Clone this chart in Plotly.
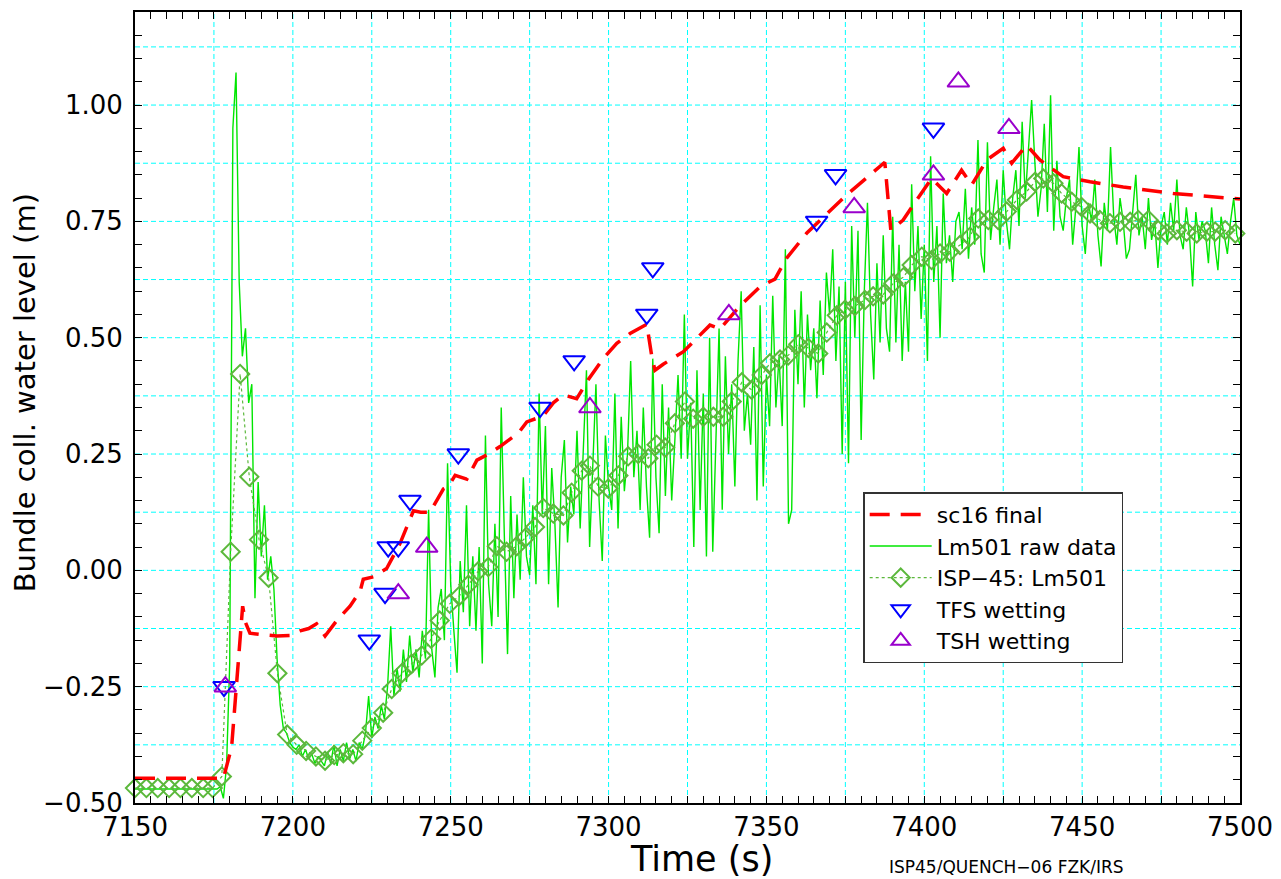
import plotly.graph_objects as go

# ---------------- data ----------------
# sc16 final (calculation)
sc16_t = [7150, 7160, 7170, 7178, 7180.6, 7182.2, 7183.3, 7184.1, 7185, 7186.4, 7190, 7194.9,
          7199, 7202.3, 7205, 7207.5, 7210.2, 7213.9, 7218.1, 7221.3, 7222.3, 7225.5, 7229.7,
          7233.9, 7238.2, 7240.5, 7243.4, 7247.7, 7249.2, 7251.4, 7255.1, 7258.3, 7262, 7265.6,
          7271.4, 7274.1, 7279.3, 7282.5, 7285.7, 7289.9, 7293.6, 7298.3, 7302.6, 7306.8, 7312.1,
          7313.7, 7314.7, 7317.3, 7323.7, 7332.1, 7335.3, 7341.6, 7348, 7352.7, 7356.4, 7362.8,
          7369.1, 7375.4, 7381.8, 7387.5, 7389.4, 7393.3, 7397.6, 7402.3, 7407.1, 7411.8, 7415,
          7419.8, 7425, 7427.7, 7432.4, 7436.6, 7444, 7452.5, 7463, 7478.9, 7500]
sc16_z = [-0.447, -0.447, -0.447, -0.447, -0.38, -0.246, -0.166, -0.077, -0.112, -0.135, -0.138, -0.141,
          -0.14, -0.13, -0.125, -0.115, -0.141, -0.108, -0.077, -0.045, -0.019, -0.014, 0.004,
          0.057, 0.128, 0.125, 0.125, 0.175, 0.18, 0.204, 0.196, 0.237, 0.25, 0.266,
          0.295, 0.319, 0.332, 0.36, 0.377, 0.369, 0.41, 0.455, 0.488, 0.509, 0.529,
          0.459, 0.43, 0.443, 0.47, 0.527, 0.519, 0.568, 0.61, 0.626, 0.671, 0.725,
          0.766, 0.807, 0.844, 0.877, 0.731, 0.753, 0.796, 0.842, 0.81, 0.86, 0.828,
          0.882, 0.907, 0.875, 0.914, 0.882, 0.846, 0.835, 0.824, 0.81, 0.798]

# Lm501 raw data (1 s sampling after 7176 s)
raw_t = [7150, 7160, 7170] + list(range(7176, 7501))
raw_z = [-0.47, -0.47, -0.47,
         -0.47, -0.465, -0.49, -0.42, -0.20, 0.95, 1.07, 0.62, 0.46, 0.52,
         0.36, 0.40, -0.06, 0.19, 0.03, 0.14, -0.02, 0.03, -0.04, -0.19,
         -0.29, -0.34, -0.35, -0.37, -0.38, -0.385, -0.375, -0.40, -0.385, -0.405,
         -0.395, -0.415, -0.40, -0.41, -0.42, -0.39, -0.415, -0.375, -0.42, -0.385,
         -0.41, -0.37, -0.405, -0.385, -0.41, -0.37, -0.385, -0.35, -0.27, -0.36,
         -0.315, -0.34, -0.29, -0.32, -0.25, -0.12, -0.27, -0.21, -0.26, -0.17,
         -0.24, -0.14, -0.22, -0.17, -0.23, -0.13, -0.19, 0.13, -0.17, -0.23,
         -0.08, -0.04, -0.15, 0.23, -0.03, -0.13, -0.22, 0.02, -0.09, 0.14,
         -0.12, 0.03, -0.13, 0.05, -0.20, 0.29, -0.03, -0.12, 0.10, -0.10,
         0.35, 0.07, -0.18, 0.16, -0.06, 0.12, -0.02, 0.20, 0.03, -0.01,
         0.14, -0.03, 0.38, 0.12, 0.31, -0.03, 0.22, 0.10, -0.08, 0.20,
         0.28, 0.06, 0.18, 0.12, 0.30, 0.09, 0.26, 0.43, 0.05, 0.21,
         0.40, 0.15, 0.02, 0.29, 0.18, 0.13, 0.38, 0.09, 0.33, 0.17,
         0.25, 0.45, 0.20, 0.30, 0.13, 0.35, 0.18, 0.07, 0.455, 0.20,
         0.08, 0.40, 0.16, 0.35, 0.15, 0.28, 0.42, 0.24, 0.55, 0.24,
         0.36, 0.05, 0.43, 0.13, 0.38, 0.03, 0.50, 0.04, 0.30, 0.52,
         0.13, 0.46, 0.25, 0.40, 0.18, 0.45, 0.60, 0.30, 0.38, 0.27,
         0.48, 0.15, 0.57, 0.18, 0.42, 0.31, 0.59, 0.35, 0.46, 0.31,
         0.69, 0.10, 0.13, 0.56, 0.40, 0.60, 0.35, 0.55, 0.43, 0.52,
         0.37, 0.58, 0.42, 0.64, 0.55, 0.69, 0.45, 0.61, 0.25, 0.62,
         0.23, 0.74, 0.50, 0.73, 0.28, 0.60, 0.79, 0.55, 0.41, 0.66,
         0.49, 0.72, 0.52, 0.47, 0.76, 0.49, 0.70, 0.45, 0.62, 0.47,
         0.83, 0.60, 0.74, 0.54, 0.70, 0.45, 0.89, 0.62, 0.74, 0.50,
         0.81, 0.66, 0.72, 0.62, 0.75, 0.77, 0.69, 0.82, 0.67, 0.78,
         0.70, 0.925, 0.68, 0.64, 0.92, 0.71, 0.78, 0.84, 0.70, 0.86,
         0.75, 0.69, 0.80, 0.86, 0.74, 0.964, 0.80, 0.90, 1.011, 0.88,
         0.76, 0.82, 0.96, 0.77, 1.021, 0.73, 0.88, 0.76, 0.73, 0.80,
         0.84, 0.70, 0.78, 0.91, 0.74, 0.68, 0.79, 0.75, 0.84, 0.72,
         0.653, 0.79, 0.73, 0.91, 0.76, 0.70, 0.80, 0.75, 0.67, 0.69,
         0.78, 0.85, 0.72, 0.76, 0.69, 0.80, 0.71, 0.75, 0.65, 0.74,
         0.77, 0.70, 0.79, 0.73, 0.84, 0.72, 0.69, 0.78, 0.72, 0.61,
         0.77, 0.71, 0.75, 0.73, 0.66, 0.78, 0.70, 0.645, 0.76, 0.72,
         0.68, 0.75, 0.80, 0.72, 0.70]

# ISP-45: Lm501 (processed experimental data)
isp_t = [7150, 7153.6, 7157.2, 7160.8, 7164.4, 7168, 7171.6, 7174.6, 7177.5, 7180.3, 7183.3, 7186.2,
         7189.3, 7192.3, 7195.1, 7198.2, 7201.2, 7204.2, 7207.3, 7210.2, 7213.1, 7216, 7219.1,
         7222, 7225, 7228.6, 7231.3, 7234.5, 7237.6, 7240.8, 7243.8, 7246.5, 7249.7, 7252.7,
         7255.6, 7258.7, 7261.9, 7264.6, 7267.7, 7270.9, 7273.5, 7276.7, 7279.3, 7282.5, 7285.7,
         7288.3, 7291.5, 7294.1, 7296.7, 7299.9, 7303.1, 7306.2, 7309.4, 7312.6, 7315.2, 7317.9,
         7321, 7324.2, 7326.8, 7330, 7333.2, 7336.3, 7339, 7342.2, 7345.3, 7348.5, 7351.1,
         7354.3, 7356.9, 7360.1, 7363.3, 7366.4, 7369.1, 7372.3, 7374.9, 7378, 7381.2, 7383.8,
         7387, 7390.2, 7393.4, 7396, 7399.2, 7402.3, 7405, 7408.1, 7411.3, 7414.5, 7417.1,
         7420.3, 7423.4, 7426.1, 7429.3, 7432.4, 7435.1, 7437.7, 7440.9, 7443.5, 7446.7, 7449.8,
         7452.5, 7455.6, 7458.8, 7462, 7465.2, 7467.8, 7471, 7474.1, 7476.8, 7480, 7483.1,
         7486.3, 7489.5, 7492.1, 7495.3, 7498.5]
isp_z = [-0.468, -0.468, -0.468, -0.468, -0.468, -0.468, -0.468, -0.468, -0.443, 0.04, 0.422, 0.201,
         0.066, -0.016, -0.221, -0.353, -0.375, -0.388, -0.4, -0.409, -0.397, -0.393, -0.395,
         -0.366, -0.339, -0.306, -0.255, -0.221, -0.201, -0.183, -0.147, -0.108, -0.072, -0.055,
         -0.031, -0.002, 0.007, 0.052, 0.04, 0.052, 0.069, 0.093, 0.134, 0.122, 0.118,
         0.167, 0.214, 0.225, 0.18, 0.176, 0.204, 0.245, 0.25, 0.241, 0.27, 0.264,
         0.316, 0.363, 0.326, 0.33, 0.33, 0.33, 0.363, 0.404, 0.388, 0.42, 0.445,
         0.453, 0.462, 0.486, 0.478, 0.466, 0.511, 0.548, 0.56, 0.568, 0.581, 0.589,
         0.593, 0.617, 0.63, 0.656, 0.674, 0.667, 0.681, 0.685, 0.699, 0.717, 0.756,
         0.753, 0.753, 0.771, 0.796, 0.814, 0.835, 0.842, 0.832, 0.81, 0.792, 0.781,
         0.767, 0.753, 0.746, 0.749, 0.749, 0.753, 0.753, 0.731, 0.724, 0.731, 0.728,
         0.724, 0.728, 0.728, 0.731, 0.724]

# wetting (quench front) times
tfs_t = [7178.2, 7224.2, 7229.2, 7230.2, 7233.4, 7237.1, 7252.4, 7278.3, 7289.1, 7312.1, 7314.0,
         7365.9, 7371.9, 7402.9]
tfs_z = [-0.25, -0.15, -0.05, 0.05, 0.05, 0.15, 0.25, 0.35, 0.45, 0.55, 0.65,
         0.75, 0.85, 0.95]
tsh_t = [7178.6, 7233.4, 7242.4, 7294.1, 7338.1, 7377.8, 7402.9, 7410.8, 7426.8]
tsh_z = [-0.25, -0.05, 0.05, 0.35, 0.55, 0.78, 0.85, 1.05, 0.95]

# axis tick labels
x_tickvals = [7150, 7200, 7250, 7300, 7350, 7400, 7450, 7500]
x_ticktext = ["7150", "7200", "7250", "7300", "7350", "7400", "7450", "7500"]
y_tickvals = [-0.5, -0.25, 0.0, 0.25, 0.5, 0.75, 1.0]
y_ticktext = ["\u22120.50", "\u22120.25", "0.00", "0.25", "0.50", "0.75", "1.00"]
# grid spacing
x_grid_step = 25
y_grid_step = 0.125

# ---------------- figure ----------------
FONT = "DejaVu Sans, Liberation Sans, sans-serif"
GRIDC = "#00ffff"
XR = [7150, 7500]
YR = [-0.5, 1.2]
fig = go.Figure()

fig.add_trace(go.Scatter(x=raw_t, y=raw_z, mode="lines", name="Lm501 raw data",
                         line=dict(color="#00e600", width=1.4), legendrank=2))
fig.add_trace(go.Scatter(x=isp_t, y=isp_z, mode="lines+markers", name="ISP\u221245: Lm501",
                         line=dict(color="#5cb83c", width=1.2, dash="dot"),
                         marker=dict(symbol="diamond-open", size=14, color="#5cb83c",
                                     line=dict(width=2, color="#5cb83c")),
                         cliponaxis=False, legendrank=3))
fig.add_trace(go.Scatter(x=sc16_t, y=sc16_z, mode="lines", name="sc16 final",
                         line=dict(color="#ff0000", width=3.5, dash="20px,11px"), legendrank=1))
fig.add_trace(go.Scatter(x=tfs_t, y=tfs_z, mode="markers", name="TFS wetting",
                         marker=dict(symbol="triangle-down-open", size=19, color="#0000ff",
                                     line=dict(width=2, color="#0000ff")),
                         cliponaxis=False, legendrank=4))
fig.add_trace(go.Scatter(x=tsh_t, y=tsh_z, mode="markers", name="TSH wetting",
                         marker=dict(symbol="triangle-up-open", size=19, color="#9900cc",
                                     line=dict(width=2, color="#9900cc")),
                         cliponaxis=False, legendrank=5))

common = dict(showgrid=False, ticks="inside", ticklen=7, tickwidth=1, tickcolor="black",
              showline=True, linecolor="black", linewidth=2, mirror="allticks",
              zeroline=False, automargin=False, tickmode="array",
              tickfont=dict(family=FONT, size=26, color="black"))

fig.update_xaxes(range=XR, tickvals=x_tickvals, ticktext=x_ticktext, ticklabelstandoff=0, **common)
fig.update_yaxes(range=YR, tickvals=y_tickvals, ticktext=y_ticktext, ticklabelstandoff=5, **common)

# fine tick marks (every 5 s / 0.05 m) on overlaid helper axes
fig.update_layout(
    xaxis2=dict(overlaying="x", matches="x", range=XR, dtick=5, tick0=7150,
                ticks="inside", ticklen=7, tickcolor="black", showticklabels=False,
                showgrid=False, zeroline=False, showline=False, mirror="allticks", automargin=False),
    yaxis2=dict(overlaying="y", matches="y", range=YR, dtick=0.05, tick0=0,
                ticks="inside", ticklen=7, tickcolor="black", showticklabels=False,
                showgrid=False, zeroline=False, showline=False, mirror="allticks", automargin=False),
)
fig.add_trace(go.Scatter(x=[XR[0]], y=[YR[0]], xaxis="x2", yaxis="y2", mode="markers",
                         marker=dict(opacity=0), showlegend=False, hoverinfo="skip"))

# dashed cyan grid (every 25 s and every 0.125 m)
gx = XR[0] + x_grid_step
while gx < XR[1] - 1e-9:
    fig.add_shape(type="line", xref="x", yref="paper", x0=gx, x1=gx, y0=0, y1=1, layer="below",
                  line=dict(color=GRIDC, width=1, dash="5px,3px"))
    gx += x_grid_step
gy = YR[0] + y_grid_step
while gy < YR[1] - 1e-9:
    fig.add_shape(type="line", xref="paper", yref="y", x0=0, x1=1, y0=gy, y1=gy, layer="below",
                  line=dict(color=GRIDC, width=1, dash="5px,3px"))
    gy += y_grid_step

# axis titles (placed as in the reference)
fig.add_annotation(text="Bundle coll. water level (m)", xref="paper", yref="paper",
                   x=-0.0995, y=0.518, xanchor="center", yanchor="middle", textangle=-90,
                   showarrow=False, font=dict(family=FONT, size=29, color="black"))
fig.add_annotation(text="Time (s)", xref="paper", yref="paper",
                   x=0.513, y=-0.0705, xanchor="center", yanchor="middle", showarrow=False,
                   font=dict(family=FONT, size=35, color="black"))
fig.add_annotation(text="ISP45/QUENCH\u221206 FZK/IRS", xref="paper", yref="paper",
                   x=0.789, y=-0.0955, xanchor="center", yanchor="bottom", showarrow=False,
                   font=dict(family=FONT, size=17, color="black"))

fig.update_layout(
    template="none",
    width=1281, height=879,
    margin=dict(l=135, r=41, t=12, b=76),
    paper_bgcolor="white", plot_bgcolor="white",
    font=dict(family=FONT, color="black"),
    legend=dict(x=0.659, y=0.393, xanchor="left", yanchor="top",
                bgcolor="white", bordercolor="#333333", borderwidth=1.5,
                font=dict(family=FONT, size=22, color="black"),
                itemwidth=62, tracegroupgap=0),
    showlegend=True,
)

fig.write_html("out.html")
